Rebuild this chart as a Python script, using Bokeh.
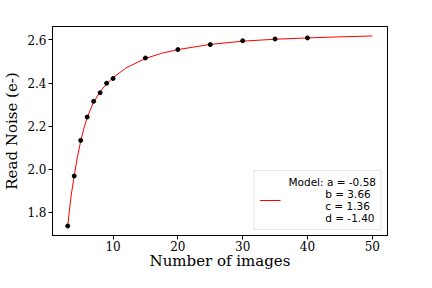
from bokeh.plotting import figure
from bokeh.models import Range1d, Legend, LegendItem, FixedTicker, NumeralTickFormatter
from bokeh.embed import file_html
from bokeh.resources import INLINE

# measured data points
n_images = [3, 4, 5, 6, 7, 8, 9, 10, 15, 20, 25, 30, 35, 40]
read_noise = [1.737, 1.969, 2.134, 2.242, 2.315, 2.355, 2.399, 2.421,
              2.516, 2.555, 2.578, 2.596, 2.604, 2.609]

# fitted model curve
model_x = [3, 3.5, 4, 4.5, 5, 5.5, 6, 7, 8, 9, 10, 12, 15, 17.5, 20,
           25, 30, 35, 40, 45, 50]
model_y = [1.737, 1.872, 1.970, 2.058, 2.130, 2.190, 2.240, 2.312, 2.360,
           2.396, 2.425, 2.470, 2.514, 2.538, 2.555, 2.579, 2.594, 2.603,
           2.609, 2.614, 2.618]

x_ticks = [10, 20, 30, 40, 50]
y_ticks = [1.8, 2.0, 2.2, 2.4, 2.6]

NB = "\u00a0"
legend_text = ("Model: a = -0.58\n" + NB * 11 + "b = 3.66\n" + NB * 11 +
               "c = 1.36\n" + NB * 11 + "d = -1.40")

SERIF = "DejaVu Serif"

p = figure(frame_width=335, height=272, output_backend="svg",
           toolbar_location=None,
           x_range=Range1d(0.65, 52.35), y_range=Range1d(1.693, 2.662),
           min_border_left=46, min_border_right=35, min_border_top=26,
           min_border_bottom=0)

p.xgrid.visible = False
p.ygrid.visible = False
p.outline_line_color = "black"
p.outline_line_alpha = 1.0
p.outline_line_width = 1
p.background_fill_color = "white"
p.border_fill_color = "white"

r_line = p.line(model_x, model_y, line_color="red", line_width=1)
p.scatter(n_images, read_noise, size=4, color="black")

for ax in (p.xaxis[0], p.yaxis[0]):
    ax.major_label_text_font = SERIF
    ax.major_label_text_font_size = "12px"
    ax.major_label_text_color = "black"
    ax.axis_label_text_font = SERIF
    ax.axis_label_text_font_size = "15px"
    ax.axis_label_text_font_style = "normal"
    ax.axis_label_text_color = "black"
    ax.minor_tick_line_color = None
    ax.major_tick_out = 4
    ax.major_tick_in = 0
    ax.major_tick_line_color = "black"
    ax.axis_line_color = "black"

p.yaxis.major_label_standoff = 2
p.yaxis.axis_label_standoff = 3
p.xaxis.major_label_standoff = 1
p.xaxis.axis_label_standoff = -2

p.xaxis.ticker = FixedTicker(ticks=x_ticks)
p.yaxis.ticker = FixedTicker(ticks=y_ticks)
p.yaxis.formatter = NumeralTickFormatter(format="0.0")
p.yaxis.axis_label = "Read Noise (e-)"
p.xaxis.axis_label = "Number of images"

legend = Legend(items=[LegendItem(label=legend_text, renderers=[r_line])],
                location="bottom_right")
legend.label_text_font = "DejaVu Sans"
legend.label_text_font_size = "10.5px"
legend.label_text_line_height = 1.0
legend.label_text_color = "black"
legend.label_standoff = 8
legend.glyph_width = 21
legend.border_line_color = "#cccccc"
legend.border_line_width = 1
legend.margin = 5
legend.padding = 5
legend.background_fill_alpha = 0.8
p.add_layout(legend)

open("out.html", "w").write(file_html(p, INLINE))
